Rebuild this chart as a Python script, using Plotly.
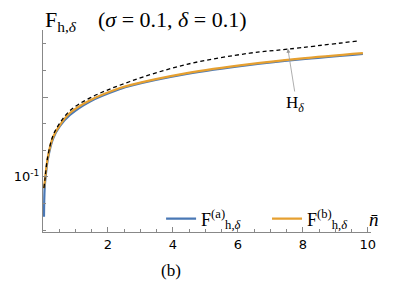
import plotly.graph_objects as go

# data
n_a = [0.03, 0.05, 0.08, 0.15, 0.31, 0.52, 0.83, 1.45, 2.37, 2.68, 4.43, 6.37, 7.91, 9.85]
F_a = [0.050, 0.085, 0.100, 0.1225, 0.148, 0.1635, 0.1775, 0.1945, 0.2100, 0.2140, 0.2290, 0.2404, 0.2472, 0.2542]

n_b = [0.03, 0.06, 0.15, 0.31, 0.52, 0.83, 1.45, 2.37, 2.68, 4.43, 6.37, 7.91, 9.85]
F_b = [0.086, 0.096, 0.125, 0.150, 0.165, 0.180, 0.196, 0.2113, 0.2150, 0.2300, 0.2413, 0.2481, 0.2550]

n_h = [0.03, 0.06, 0.15, 0.31, 0.52, 0.83, 1.45, 2.68, 4.43, 6.37, 7.54, 9.75]
H = [0.086, 0.0970, 0.1260, 0.152, 0.1675, 0.183, 0.199, 0.2195, 0.241, 0.255, 0.260, 0.2705]

x_ticks = [2, 4, 6, 8, 10]
y_ticks = [0.1, 0.2]
y_ticktext = ["10<sup>-1</sup>", ""]

serif = "Liberation Serif"
sans = "DejaVu Sans"

fig = go.Figure()
fig.add_trace(go.Scatter(x=n_a, y=F_a, mode="lines", line=dict(color="#4a78b5", width=2.2, shape="spline", smoothing=1),
                         name="F<sup>(a)</sup><sub>h,<i>δ</i></sub>", legend="legend"))
fig.add_trace(go.Scatter(x=n_b, y=F_b, mode="lines", line=dict(color="#e6a030", width=2.2, shape="spline", smoothing=1),
                         name="F<sup>(b)</sup><sub>h,<i>δ</i></sub>", legend="legend2"))
fig.add_trace(go.Scatter(x=n_h, y=H, mode="lines", line=dict(color="black", width=1.3, dash="4px,3px", shape="spline", smoothing=1),
                         showlegend=False))

fig.add_annotation(x=7.54, y=0.2605, ax=7.75, ay=0.207, xref="x", yref="y", axref="x", ayref="y",
                   text="H<sub><i>δ</i></sub>", showarrow=True, arrowhead=2, arrowsize=1, arrowwidth=0.8,
                   arrowcolor="#999999", font=dict(family=serif, size=17, color="black"), yanchor="top")

fig.add_annotation(x=0, y=1.0, xref="paper", yref="paper", xanchor="left", yanchor="bottom",
                   text="F<sub>h,<i>δ</i></sub>    (<i>σ</i> = 0.1, <i>δ</i> = 0.1)", showarrow=False,
                   font=dict(family=serif, size=22, color="black"), yshift=-7)
fig.add_annotation(x=1.0, y=0, xref="paper", yref="paper", xanchor="left", yanchor="bottom",
                   text="<i>n̄</i>", showarrow=False, font=dict(family=serif, size=19, color="black"), xshift=-4)
fig.add_annotation(x=0.39, y=-0.19, xref="paper", yref="paper", xanchor="center", yanchor="middle",
                   text="(b)", showarrow=False, font=dict(family=serif, size=17, color="black"))

leg_common = dict(orientation="h", yanchor="middle", xanchor="left",
                  font=dict(family=serif, size=18, color="black"), bgcolor="rgba(0,0,0,0)", itemwidth=30)

# The page body has an 8px default margin, so the figure is sized to fit the 399x285 window
fig.update_layout(
    width=391, height=277,
    margin=dict(l=35, r=28, t=22, b=53),
    paper_bgcolor="white", plot_bgcolor="white",
    legend=dict(x=0.36, y=0.065, **leg_common),
    legend2=dict(x=0.683, y=0.065, **leg_common),
    showlegend=True,
)
fig.update_xaxes(range=[0, 10.1], tickvals=x_ticks, ticks="inside", ticklen=5, tickcolor="#888", automargin=False,
                 showline=True, linecolor="#888", linewidth=1, showgrid=False, zeroline=False,
                 tickfont=dict(family=sans, size=13, color="black"),
                 minor=dict(dtick=0.5, tick0=0, ticks="inside", ticklen=3, tickcolor="#888", showgrid=False))
fig.update_yaxes(range=[0.031, 0.284], tickvals=y_ticks, ticktext=y_ticktext, ticks="inside", ticklen=5, automargin=False,
                 tickcolor="#888", showline=True, linecolor="#888", linewidth=1, showgrid=False, zeroline=False,
                 tickfont=dict(family=sans, size=13, color="black"),
                 minor=dict(dtick=1/30, tick0=0.1, ticks="inside", ticklen=3, tickcolor="#888", showgrid=False))

fig.write_html("out.html")
